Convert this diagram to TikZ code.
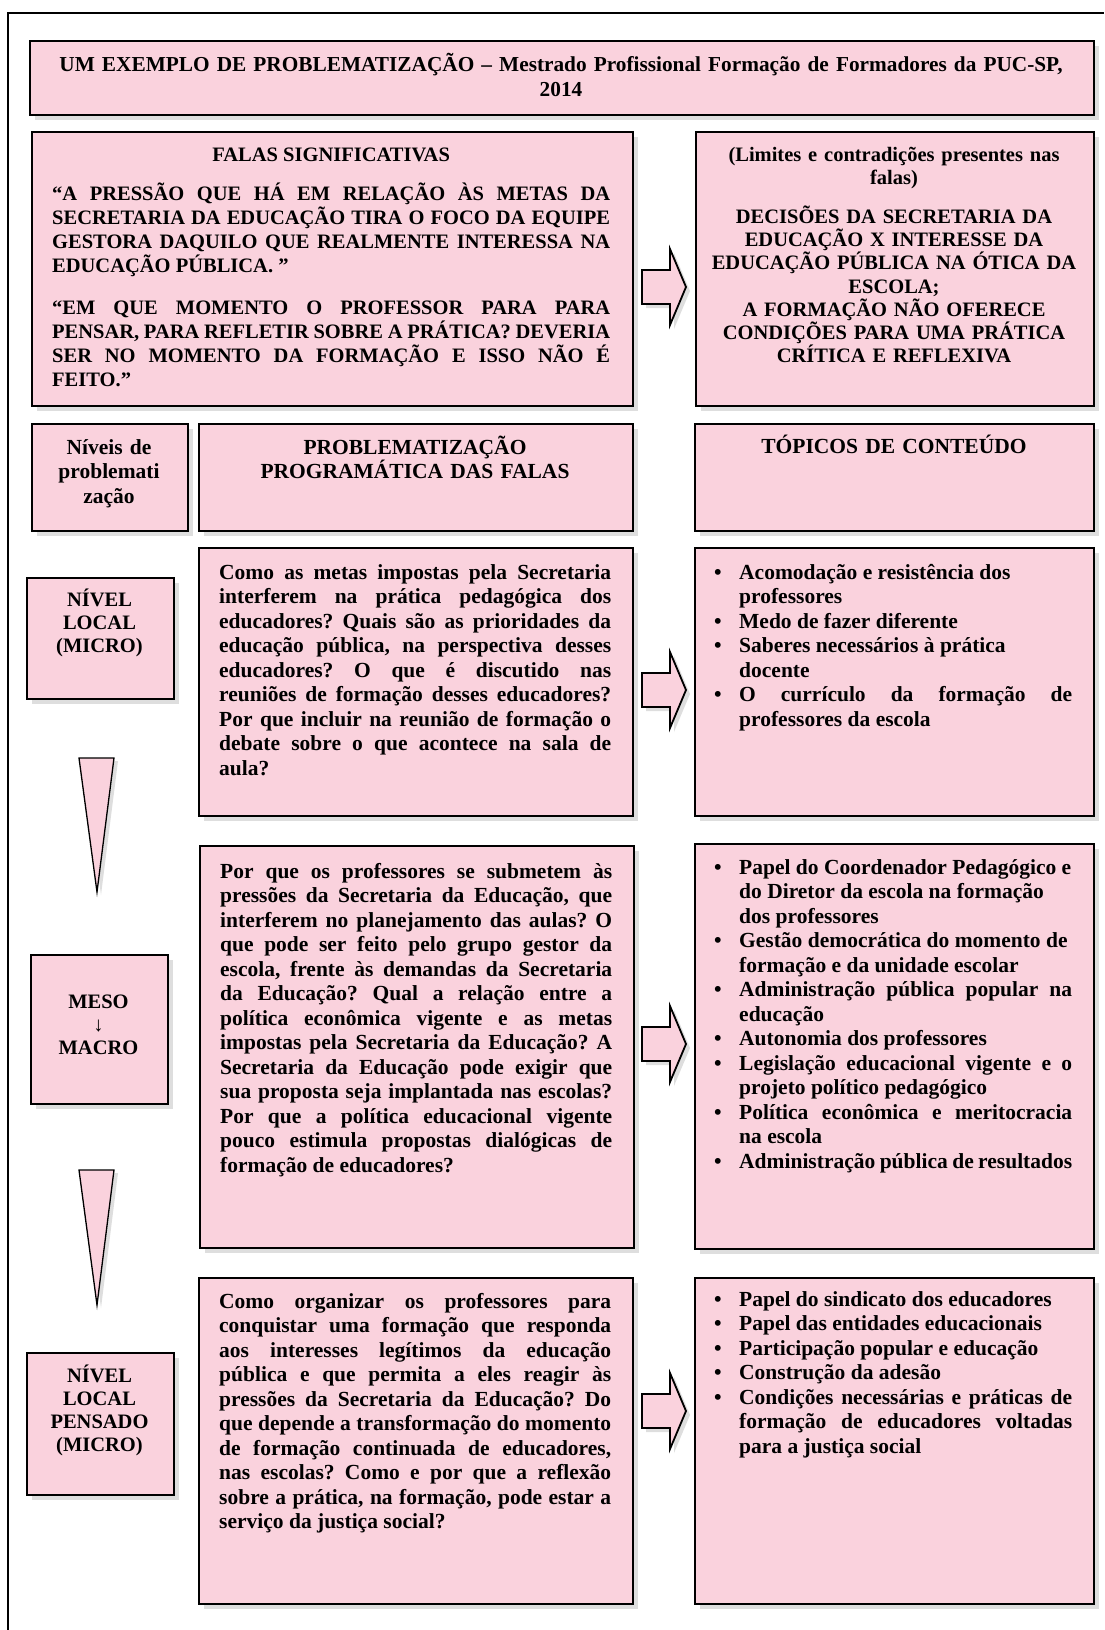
\documentclass[tikz,border=0pt]{standalone}
\usepackage{fontspec}
\setmainfont{Liberation Serif}
\usepackage{tikz}
\usetikzlibrary{shadows}
\definecolor{rosa}{RGB}{250,210,221}
\definecolor{sombra}{RGB}{222,222,222}
\tikzstyle{caixa}=[draw=black,line width=1.8pt,fill=rosa,anchor=north west,inner sep=0pt,drop shadow={shadow xshift=5pt,shadow yshift=-5pt,fill=sombra,opacity=1}]
\tikzstyle{texto}=[inner sep=0pt,font=\bfseries\fontsize{21.5}{24.5}\selectfont]
\tikzstyle{nivel}=[inner sep=0pt,text width=140pt,align=center,anchor=base,font=\bfseries\fontsize{20.5}{23.2}\selectfont]
\tikzstyle{seta}=[draw=black,line width=1.8pt,fill=rosa,drop shadow={shadow xshift=4pt,shadow yshift=-4pt,fill=sombra,opacity=1}]
\tikzstyle{ponta}=[draw=black,line width=1.3pt,fill=rosa,drop shadow={shadow xshift=4pt,shadow yshift=-3pt,fill=sombra,opacity=1}]
\newcommand{\topico}[1]{\hangindent=25pt\hangafter=1\noindent\makebox[25pt][l]{\textbullet}#1\par}
\frenchspacing

\begin{document}
\begin{tikzpicture}[x=1pt,y=-1pt]
  \useasboundingbox (0,0) rectangle (1104,1630);
  \draw[line width=2pt] (7.5,1630) -- (7.5,13) -- (1104,13);

  \node[caixa,minimum width=1064pt,minimum height=74pt] (titulo) at (29,40) {};
  \node[texto,text width=1050pt,align=center,anchor=base,font=\bfseries\fontsize{21.3}{25}\selectfont] (titulotxt) at (561,71)
    {UM EXEMPLO DE PROBLEMATIZAÇÃO – Mestrado Profissional Formação de Formadores da PUC-SP,\\ 2014};

  \node[caixa,minimum width=601pt,minimum height=274pt] (falas) at (31,131) {};
  \node[texto,text width=558pt,align=justify,anchor=base west,font=\bfseries\fontsize{20.5}{24}\selectfont] (falastxt) at (52,161)
    {{\centering FALAS SIGNIFICATIVAS\par}\vspace{15pt}
     “A PRESSÃO QUE HÁ EM RELAÇÃO ÀS METAS DA\linebreak SECRETARIA DA EDUCAÇÃO TIRA O FOCO DA EQUIPE\linebreak GESTORA DAQUILO QUE REALMENTE INTERESSA NA\linebreak EDUCAÇÃO PÚBLICA. ”\par\vspace{18pt}
     “EM QUE MOMENTO O PROFESSOR PARA PARA\linebreak PENSAR, PARA REFLETIR SOBRE A PRÁTICA? DEVERIA\linebreak SER NO MOMENTO DA FORMAÇÃO E ISSO NÃO É\linebreak FEITO.”};

  \node[caixa,minimum width=398pt,minimum height=274pt] (limites) at (695,131) {};
  \node[texto,text width=390pt,align=center,anchor=base,font=\bfseries\fontsize{20.5}{23.2}\selectfont] (limitestxt) at (894,161)
    {(Limites e contradições presentes nas\\ falas)\\[16pt] DECISÕES DA SECRETARIA DA\\ EDUCAÇÃO X INTERESSE DA\\ EDUCAÇÃO PÚBLICA NA ÓTICA DA\\ ESCOLA;\\ A FORMAÇÃO NÃO OFERECE\\ CONDIÇÕES PARA UMA PRÁTICA\\ CRÍTICA E REFLEXIVA};

  \draw[seta] (642,270) -- (670,270) -- (670,249) -- (686,287) -- (670,325) -- (670,304) -- (642,304) -- cycle;

  \node[caixa,minimum width=156pt,minimum height=107pt] (niveis) at (31,423) {};
  \node[texto,text width=150pt,align=center,anchor=base] (niveistxt) at (109,454) {Níveis de\\ problemati\\ zação};
  \node[caixa,minimum width=434pt,minimum height=107pt] (probl) at (198,423) {};
  \node[texto,text width=420pt,align=center,anchor=base] (probltxt) at (415,454) {PROBLEMATIZAÇÃO\\ PROGRAMÁTICA DAS FALAS};
  \node[caixa,minimum width=399pt,minimum height=107pt] (topicos) at (694,423) {};
  \node[texto,text width=390pt,align=center,anchor=base] (topicostxt) at (894,453) {TÓPICOS DE CONTEÚDO};

  \node[caixa,minimum width=147pt,minimum height=121pt] (local) at (26,577) {};
  \node[nivel] (localtxt) at (99.5,606) {NÍVEL\\ LOCAL\\ (MICRO)};
  \node[caixa,minimum width=434pt,minimum height=268pt] (prob1) at (198,547) {};
  \node[texto,text width=392pt,align=justify,anchor=base west] (prob1txt) at (219,579)
    {Como as metas impostas pela Secretaria\linebreak interferem na prática pedagógica dos\linebreak educadores? Quais são as prioridades da\linebreak educação pública, na perspectiva desses\linebreak educadores? O que é discutido nas\linebreak reuniões de formação desses educadores?\linebreak Por que incluir na reunião de formação o\linebreak debate sobre o que acontece na sala de\linebreak aula?};
  \draw[seta] (642,673) -- (670,673) -- (670,652) -- (686,690) -- (670,728) -- (670,707) -- (642,707) -- cycle;
  \node[caixa,minimum width=399pt,minimum height=268pt] (top1) at (694,547) {};
  \node[texto,text width=358pt,align=justify,anchor=base west] (top1txt) at (714,579)
    {\topico{Acomodação e resistência dos\\ professores}
     \topico{Medo de fazer diferente}
     \topico{Saberes necessários à prática\\ docente}
     \topico{O currículo da formação de\linebreak professores da escola}};

  \draw[ponta] (79,758) -- (114,758) -- (97,892) -- cycle;

  \node[caixa,minimum width=137pt,minimum height=149pt] (meso) at (30,954) {};
  \node[nivel] (mesotxt) at (98.5,1008) {MESO\\ ↓\\ MACRO};
  \node[caixa,minimum width=434pt,minimum height=402pt] (prob2) at (199,845) {};
  \node[texto,text width=392pt,align=justify,anchor=base west] (prob2txt) at (220,878)
    {Por que os professores se submetem às\linebreak pressões da Secretaria da Educação, que\linebreak interferem no planejamento das aulas? O\linebreak que pode ser feito pelo grupo gestor da\linebreak escola, frente às demandas da Secretaria\linebreak da Educação? Qual a relação entre a\linebreak política econômica vigente e as metas\linebreak impostas pela Secretaria da Educação? A\linebreak Secretaria da Educação pode exigir que\linebreak sua proposta seja implantada nas escolas?\linebreak Por que a política educacional vigente\linebreak pouco estimula propostas dialógicas de\linebreak formação de educadores?};
  \draw[seta] (642,1027) -- (670,1027) -- (670,1006) -- (686,1044) -- (670,1082) -- (670,1061) -- (642,1061) -- cycle;
  \node[caixa,minimum width=399pt,minimum height=405pt] (top2) at (694,843) {};
  \node[texto,text width=358pt,align=justify,anchor=base west] (top2txt) at (714,874)
    {\topico{Papel do Coordenador Pedagógico e\\ do Diretor da escola na formação\\ dos professores}
     \topico{Gestão democrática do momento de\\ formação e da unidade escolar}
     \topico{Administração pública popular na\linebreak educação}
     \topico{Autonomia dos professores}
     \topico{Legislação educacional vigente e o\linebreak projeto político pedagógico}
     \topico{Política econômica e meritocracia\linebreak na escola}
     \topico{Administração pública de resultados}};

  \draw[ponta] (79,1170) -- (114,1170) -- (97,1305) -- cycle;

  \node[caixa,minimum width=147pt,minimum height=142pt] (pensado) at (26,1352) {};
  \node[nivel] (pensadotxt) at (99.5,1382) {NÍVEL\\ LOCAL\\ PENSADO\\ (MICRO)};
  \node[caixa,minimum width=434pt,minimum height=326pt] (prob3) at (198,1277) {};
  \node[texto,text width=392pt,align=justify,anchor=base west] (prob3txt) at (219,1308)
    {Como organizar os professores para\linebreak conquistar uma formação que responda\linebreak aos interesses legítimos da educação\linebreak pública e que permita a eles reagir às\linebreak pressões da Secretaria da Educação? Do\linebreak que depende a transformação do momento\linebreak de formação continuada de educadores,\linebreak nas escolas? Como e por que a reflexão\linebreak sobre a prática, na formação, pode estar a\linebreak serviço da justiça social?};
  \draw[seta] (642,1394) -- (670,1394) -- (670,1373) -- (686,1411) -- (670,1449) -- (670,1428) -- (642,1428) -- cycle;
  \node[caixa,minimum width=399pt,minimum height=326pt] (top3) at (694,1277) {};
  \node[texto,text width=358pt,align=justify,anchor=base west] (top3txt) at (714,1306)
    {\topico{Papel do sindicato dos educadores}
     \topico{Papel das entidades educacionais}
     \topico{Participação popular e educação}
     \topico{Construção da adesão}
     \topico{Condições necessárias e práticas de\linebreak formação de educadores voltadas\linebreak para a justiça social}};
\end{tikzpicture}
\end{document}
